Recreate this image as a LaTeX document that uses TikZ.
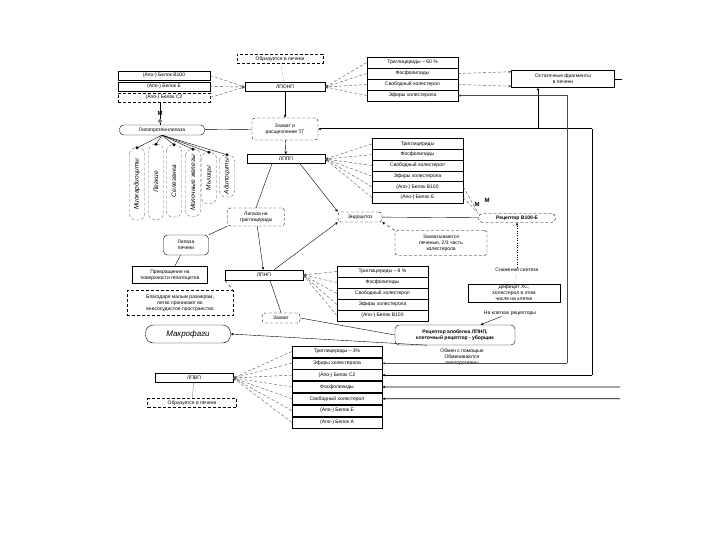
\documentclass[tikz,border=0pt]{standalone}
\usepackage{fontspec}
\setmainfont{Liberation Sans}
\usetikzlibrary{arrows.meta}

\tikzset{
  tinyfont/.style={font=\fontsize{5}{6}\selectfont},
  plainbox/.style={draw, thin, inner sep=0pt, minimum height=9pt, tinyfont, align=center},
  listrow/.style={draw, thin, inner sep=0pt, minimum height=11pt, tinyfont},
  dashbox/.style={draw, densely dashed, thin, inner sep=0pt, minimum height=9pt, tinyfont, align=center},
  dashnote/.style={draw, densely dashed, thin, rounded corners=3pt, inner sep=0pt, minimum height=10pt, tinyfont, align=center},
  roundnote/.style={draw, thin, rounded corners=4pt, inner sep=0pt, minimum height=10pt, tinyfont, align=center},
  tissue/.style={draw=black!60, densely dashed, rounded corners=6pt, rotate=90, inner sep=0pt, minimum height=15pt, font=\fontsize{6.5}{7}\selectfont\itshape},
  tinytext/.style={inner sep=1pt, tinyfont, align=center},
  link/.style={densely dashed, black!65, thin},
  tip/.style={-{Stealth[length=3pt,width=2.5pt]}},
  backtip/.style={{Stealth[length=3pt,width=2.5pt]}-},
  exline/.style={line width=1pt}
}

\begin{document}
\begin{tikzpicture}[x=1pt,y=-1pt]
  \path[fill=white] (0,0) rectangle (720,540);
  \useasboundingbox (0,0) rectangle (720,540);

  % VLDL
  \node[dashbox, minimum width=86pt] (liv1) at (280,59) {Образуется в печени};
  \node[plainbox, minimum width=92pt] (b100) at (164,75.5) {(Апо-) Белок В100};
  \node[plainbox, minimum width=92pt] (be) at (164,86.5) {(Апо-) Белок Е};
  \node[dashbox, minimum width=92pt] (bc2) at (164,97.5) {(Апо-) Белок С2};
  \node[plainbox, minimum width=80pt] (vldl) at (285,87) {ЛПОНП};
  \draw[dotted] (liv1) -- (vldl);
  \foreach \s in {b100,be,bc2}
    \draw[link, tip] (\s.east) -- (vldl.west);
  \foreach \t [count=\i] in {Триглицериды – 60 \%, Фосфолипиды, Свободный холестерол, Эфиры холестерола}
  {
    \node[listrow, minimum width=91pt] (v\i) at (412.5,{51.5+11*\i}) {\t};
    \draw[link, tip] (v\i.west) -- (vldl.east);
  }
  \node[plainbox, minimum width=103pt, minimum height=17pt] (ost) at (563,79) {Остаточные фрагменты\\в печени};
  \draw[link, tip] (v2.east) -- (ost.172);
  \draw[link, tip] (v3.east) -- (ost.188);
  \coordinate (oe) at (622,79);
  \draw (ost.east) -- (oe);

  % lipoprotein lipase
  \node[roundnote, minimum width=85pt] (lpl) at (162,130) {Липопротеинлипаза};
  \node[circle, draw, inner sep=0pt, minimum size=3pt] (m1) at (160,121) {};
  \node[tinytext, font=\fontsize{6}{7}\selectfont\bfseries] (mlab) at (160,113) {М};
  \draw (m1) -- (m1 |- bc2.south);
  \draw (m1) -- (m1 |- lpl.north);
  \foreach \x/\y/\h/\t [count=\i] in {137/184/72/Миокардиоциты, 156/182/75/Легкие, 174/181/72/Селезенка, 193/183/67/Молочные железы, 209/178/51/Мышцы, 227/176/42/Адипоциты}
  {
    \node[tissue, minimum width=\h pt] (t\i) at (\x,\y) {\t};
    \fill (t\i.east) circle (1.6pt);
    \draw (lpl.south) -- (t\i.east);
  }

  \node[dashnote, minimum width=66pt, minimum height=22pt] (tg) at (285,129) {Захват и\\расщепление ТГ};
  \draw[tip] (vldl) -- (tg);
  \draw (lpl) -- (tg);
  \coordinate (q0) at (538,129);
  \coordinate (q1) at (592,129);
  \draw[exline, backtip] (tg.east) -- (q1);
  \draw[exline, tip] (q0) -- (q0 |- ost.south);

  % IDL
  \node[plainbox, minimum width=78pt] (idl) at (286,159) {ЛППП};
  \draw[tip] (tg) -- (idl);
  \foreach \t [count=\i] in {Триглицериды, Фосфолипиды, Свободный холестерол, Эфиры холестерола, (Апо-) Белок В100, (Апо-) Белок Е}
  {
    \node[listrow, minimum width=91pt, minimum height=10.7pt] (l\i) at (417.5,{133.3+10.7*\i}) {\t};
    \draw[link, tip] (l\i.west) -- (idl.east);
  }
  \node[roundnote, densely dashed, minimum width=77pt, minimum height=9pt, font=\fontsize{5}{6}\selectfont\bfseries] (rbe) at (517,218) {Рецептор В100-Е};
  \node[tinytext, font=\fontsize{6}{7}\selectfont\bfseries] (mb1) at (477,204) {М};
  \node[tinytext, font=\fontsize{6}{7}\selectfont\bfseries] (mb2) at (487,200) {М};
  \draw[link] (l5.east) -- (rbe.north west);
  \draw[link] (l6.east) -- (rbe.north west);
  \node[dashnote, minimum width=44pt] (endo) at (360,217) {Эндоцитоз};
  \draw (endo) -- (rbe);
  \draw[tip] ([xshift=14pt]idl.south) -- (endo.north west);
  \node[dashnote, minimum width=92pt, minimum height=25pt] (cap) at (441,243) {Захватываются\\печенью, 2/3 часть\\холестерола};
  \draw[dashed, tip] (cap.north west) -- (endo.south east);
  \node[tinytext] (syn) at (517,270) {Снижение синтеза};
  \draw[dotted, tip] (syn) -- (rbe);
  \node[plainbox, minimum width=92pt, minimum height=18pt] (def) at (514,293) {Дефицит ХС,\\холестерол в этом\\числе на клетке};
  \draw[dotted] (def) -- (syn);

  % hepatic lipase
  \node[dashnote, minimum width=57pt, minimum height=18pt] (htl) at (256,217) {Липаза на\\триглицериды};
  \draw ([xshift=-14pt]idl.south) -- (htl.north);
  \node[roundnote, minimum width=45pt, minimum height=20pt] (hl) at (186,245) {Липаза\\печени};
  \draw (hl.north east) -- (htl.south west);
  \node[plainbox, minimum width=75pt, minimum height=17pt] (conv) at (170,275) {Превращение на\\поверхности гепатоцитов};
  \draw (hl) -- (conv);

  % LDL
  \node[plainbox, minimum width=78pt, minimum height=10pt] (ldl) at (264,275) {ЛПНП};
  \draw[tip] (htl) -- (ldl);
  \draw[tip] ([xshift=10pt]ldl.north) -- (endo.south west);
  \foreach \t [count=\i] in {Триглицериды – 8 \%, Фосфолипиды, Свободный холестерол, Эфиры холестерола, (Апо-) Белок В100}
  {
    \node[listrow, minimum width=91pt] (d\i) at (382.5,{260.5+11*\i}) {\t};
    \draw[link, tip] (d\i.west) -- (ldl.east);
  }
  \node[dashbox, minimum width=106pt, minimum height=25pt] (small) at (180,303) {Благодаря малым размерам,\\легко проникают во\\внесосудистое пространство};
  \draw[dashed] (ldl.south west) -- (small.north east);
  \node[dashnote, minimum width=38pt] (upt) at (281,318) {Захват};
  \draw ([xshift=6pt]ldl.south) -- (upt.north);
  \node[roundnote, minimum width=120pt, minimum height=20pt, font=\fontsize{5}{6}\selectfont\bfseries] (scav) at (455,335) {Рецептор апобелка ЛПНП,\\клеточный рецептор - уборщик};
  \draw (upt.east) -- (scav.west);
  \node[tinytext] (rec) at (510,313) {На клетках рецепторы};
  \draw[tip] (rec) -- (scav);
  \node[roundnote, rounded corners=8pt, minimum width=85pt, minimum height=18pt, font=\fontsize{8}{9}\selectfont\itshape] (mac) at (188,334) {Макрофаги};
  \draw[tip] (scav.200) -- (mac.east);
  \node[tinytext] (exch) at (462,357) {Обмен с помощью\\Обмениваются\\липопротеины};

  % HDL
  \node[plainbox, minimum width=78pt] (hdl) at (194,378) {ЛПВП};
  \node[dashbox, minimum width=89pt] (liv2) at (192,403) {Образуется в печени};
  \draw[black!50] (hdl) -- (liv2);
  \foreach \t [count=\i] in {Триглицериды – 3\%, Эфиры холестерола, (Апо-) Белок С2, Фосфолипиды, Свободный холестерол, (Апо-) Белок Е, (Апо-) Белок А}
  {
    \node[listrow, minimum width=90pt] (h\i) at (337,{339.7+11.8*\i}) {\t};
    \draw[link, tip] (h\i.west) -- (hdl.east);
  }

  % exchange lines
  \coordinate (r1) at (567,95.5);
  \coordinate (r2) at (567,363.3);
  \coordinate (q2) at (592,375.1);
  \coordinate (s4) at (620,386.9);
  \coordinate (s5) at (620,398.7);
  \draw[black!70, exline, backtip] (v4.east) -- (r1);
  \draw[black!70, exline] (r1) -- (r2);
  \draw[black!70, exline, backtip] (h2.east) -- (r2);
  \draw[exline] (q1) -- (q2);
  \draw[exline, backtip] (h3.east) -- (q2);
  \draw[line width=0.7pt, backtip] (h4.east) -- (s4);
  \draw[line width=0.7pt, backtip] (h5.east) -- (s5);
\end{tikzpicture}
\end{document}
